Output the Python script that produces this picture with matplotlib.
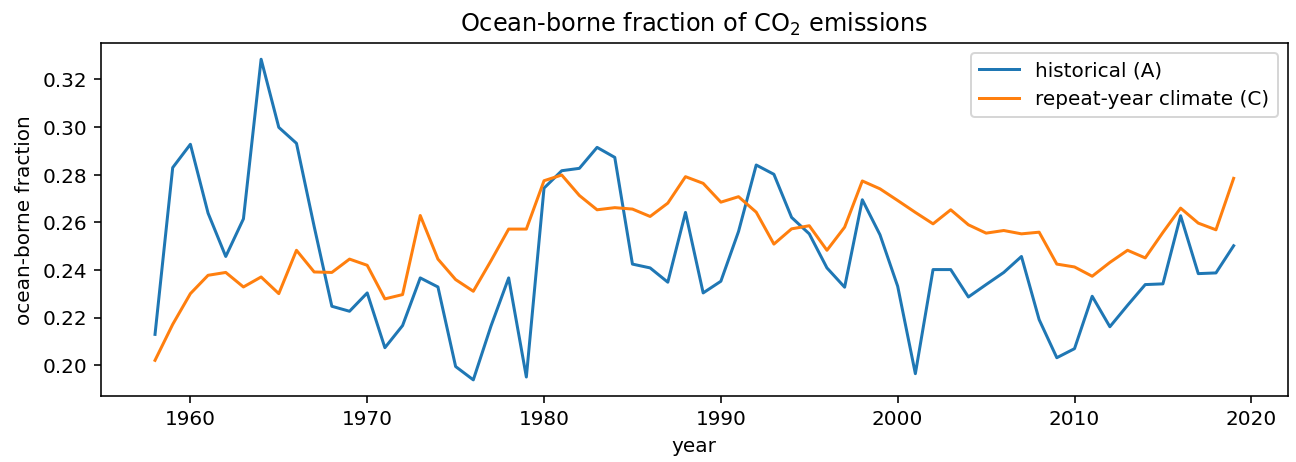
import matplotlib
matplotlib.use('Agg')
import matplotlib.pyplot as plt
import numpy as np

years = np.arange(1958, 2020)

# ocean-borne fraction, historical forcing run
frac_hist = [0.2130, 0.2830, 0.2928, 0.2639, 0.2457, 0.2615, 0.3285, 0.2999,
             0.2932, 0.2583, 0.2248, 0.2227, 0.2304, 0.2074, 0.2167, 0.2367,
             0.2329, 0.1995, 0.1939, 0.2165, 0.2367, 0.1951, 0.2744, 0.2817,
             0.2827, 0.2915, 0.2873, 0.2425, 0.2409, 0.2349, 0.2642, 0.2304,
             0.2353, 0.2562, 0.2841, 0.2802, 0.2621, 0.2552, 0.2409, 0.2328,
             0.2695, 0.2548, 0.2332, 0.1965, 0.2402, 0.2402, 0.2287, 0.2339,
             0.2390, 0.2457, 0.2192, 0.2032, 0.2070, 0.2290, 0.2162, 0.2252,
             0.2339, 0.2342, 0.2628, 0.2385, 0.2388, 0.2502]

# ocean-borne fraction, repeat-year climate run
frac_ryf = [0.2021, 0.2172, 0.2301, 0.2378, 0.2390, 0.2329, 0.2371, 0.2301,
            0.2483, 0.2392, 0.2390, 0.2446, 0.2420, 0.2279, 0.2297, 0.2629,
            0.2446, 0.2360, 0.2311, 0.2439, 0.2572, 0.2572, 0.2775, 0.2799,
            0.2713, 0.2653, 0.2662, 0.2656, 0.2625, 0.2681, 0.2792, 0.2764,
            0.2685, 0.2708, 0.2643, 0.2509, 0.2573, 0.2586, 0.2483, 0.2580,
            0.2774, 0.2741, 0.2692, 0.2642, 0.2594, 0.2653, 0.2590, 0.2555,
            0.2566, 0.2552, 0.2559, 0.2425, 0.2413, 0.2374, 0.2432, 0.2483,
            0.2451, 0.2558, 0.2660, 0.2597, 0.2569, 0.2785]

fig, ax = plt.subplots(figsize=(9, 3.21), dpi=144)
fig.subplots_adjust(left=0.078, right=0.9935, top=0.906, bottom=0.143)

ax.plot(years, frac_hist, label='historical (A)')
ax.plot(years, frac_ryf, label='repeat-year climate (C)')
ax.set_xlabel('year')
ax.set_ylabel('ocean-borne fraction')
ax.set_title('Ocean-borne fraction of CO$_2$ emissions')
ax.legend(loc='upper right')

plt.savefig('out.png', dpi=144)
plt.close()
